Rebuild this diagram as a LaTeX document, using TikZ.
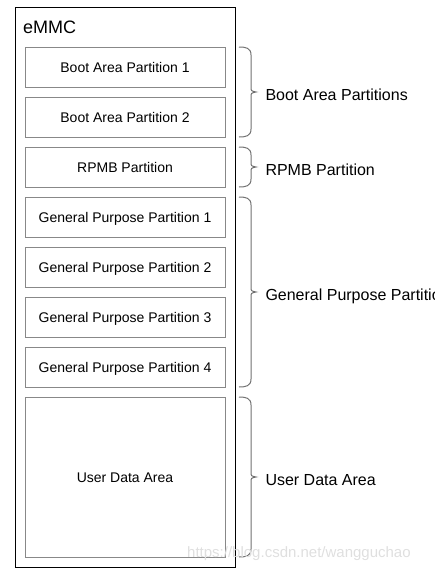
\documentclass[tikz,border=0pt]{standalone}
\usepackage{fontspec}
\setmainfont{Liberation Sans}
\usepackage{tikz}
\usetikzlibrary{positioning}
\usetikzlibrary{calc}
\definecolor{boxGray}{HTML}{888888}
\definecolor{braceGray}{HTML}{707070}

% curly bracket from the top of #1 to the bottom of #2, labelled #3
\newcommand{\partbrace}[3]{%
	\draw[brace line] let \p1=($(#1.north east)+(14,0)$), \p2=($(#2.south east)+(14,0)$), \n1={0.5*(\y1+\y2)} in
	(\x1,\y1) .. controls (\x1+7pt,\y1) and (\x1+12pt,\y1-1pt) .. (\x1+12pt,\y1-8pt)
	-- (\x1+12pt,\n1+5pt) .. controls (\x1+12pt,\n1+1pt) .. (\x1+17pt,\n1)
	.. controls (\x1+12pt,\n1-1pt) .. (\x1+12pt,\n1-5pt)
	-- (\x1+12pt,\y2+8pt) .. controls (\x1+12pt,\y2+1pt) and (\x1+7pt,\y2) .. (\x1,\y2)
	node[label node] at (\x1+26pt,\n1-8pt) {#3};
}

\begin{document}
\begin{tikzpicture}[x=1pt,y=-1pt,
	part node/.style={draw=boxGray, line width=1pt, outer sep=0pt, minimum width=200pt, minimum height=40pt, text height=10pt, text depth=0pt, font=\fontsize{14}{16}\selectfont},
	label node/.style={anchor=base west, inner sep=0pt, text=black, font=\fontsize{16}{18}\selectfont},
	brace line/.style={draw=braceGray, line width=1pt}]
	\useasboundingbox (0,0) rectangle (434,570);
	
	% eMMC device
	\node[draw, line width=1pt, outer sep=0pt, anchor=north west, minimum width=220pt, minimum height=560pt] (emmc) at (15,7) {};
	\node[anchor=base west, inner sep=0pt, font=\fontsize{18}{20}\selectfont] (title) at (23,33.3) {eMMC};
	
	% Partitions
	\node[part node] (boot1) at (125,67) {Boot Area Partition 1};
	\node[part node] (boot2) [below=10pt of boot1] {Boot Area Partition 2};
	\node[part node] (rpmb) [below=10pt of boot2] {RPMB Partition};
	\node[part node] (gp1) [below=10pt of rpmb] {General Purpose Partition 1};
	\node[part node] (gp2) [below=10pt of gp1] {General Purpose Partition 2};
	\node[part node] (gp3) [below=10pt of gp2] {General Purpose Partition 3};
	\node[part node] (gp4) [below=10pt of gp3] {General Purpose Partition 4};
	\node[part node, minimum height=160pt] (user) [below=10pt of gp4] {User Data Area};
	
	% Brackets
	\partbrace{boot1}{boot2}{Boot Area Partitions}
	\partbrace{rpmb}{rpmb}{RPMB Partition}
	\partbrace{gp1}{gp4}{General Purpose Partitions}
	\partbrace{user}{user}{User Data Area}
	
	\node[anchor=base west, inner sep=0pt, text=gray!25, font=\fontsize{15}{17}\selectfont] (mark) at (187,557) {https://blog.csdn.net/wangguchao};
\end{tikzpicture}
\end{document}
